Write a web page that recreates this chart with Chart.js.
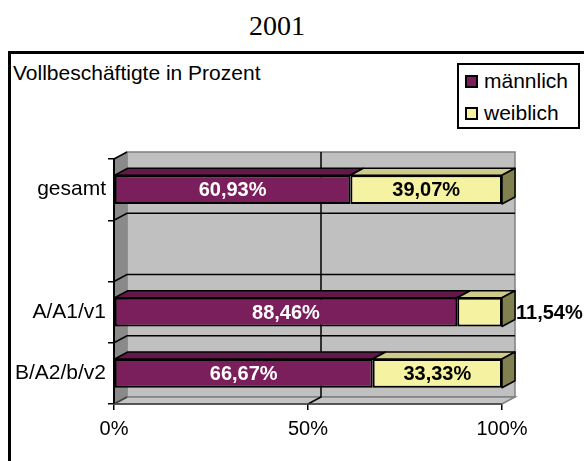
<!DOCTYPE html>
<html>
<head>
<meta charset="utf-8">
<script src="https://cdn.jsdelivr.net/npm/chart.js@4"></script>
<style>
  body { margin:0; background:#fff; }
  #wrap { position:relative; width:584px; height:461px; overflow:hidden; font-family:"Liberation Sans", Arial, sans-serif; }
  #frame { position:absolute; left:8px; top:51px; width:640px; height:520px; border:3px solid #000; }
  #title { position:absolute; left:0; top:12px; width:554px; text-align:center; font:28px/28px "Liberation Serif", "Times New Roman", serif; }
  #subtitle { position:absolute; left:13px; top:62px; font-size:21px; line-height:21px; }
  #legend { position:absolute; left:457px; top:63px; width:119px; height:62px; border:2px solid #000; background:#fff; }
  .item { position:absolute; left:0; font-size:21px; line-height:21px; white-space:nowrap; }
  .item i { position:absolute; left:6px; top:5px; width:13px; height:13px; box-sizing:border-box; border:2px solid #000; }
  .item span { position:absolute; left:25px; top:0; }
  canvas { position:absolute; left:0; top:0; }
</style>
</head>
<body>
<div id="wrap">
  <div id="frame"></div>
  <div id="title">2001</div>
  <div id="subtitle">Vollbeschäftigte in Prozent</div>
  <div id="legend"></div>
  <canvas id="chart" width="584" height="461"></canvas>
</div>
<script>
// ---- DATA ----
const categories   = ["gesamt", "", "A/A1/v1", "B/A2/b/v2"];
const seriesNames  = ["männlich", "weiblich"];
const maleValues   = [60.93, null, 88.46, 66.67];
const femaleValues = [39.07, null, 11.54, 33.33];
const xTickValues  = [0, 50, 100];

// ---- STYLE ----
const FONT = "'Liberation Sans', Arial, sans-serif";
const frontColors = ["#7a1f5b", "#f5f2a2"];
const topColors   = ["#63184a", "#cfcb88"];
const sideColors  = ["#4a1036", "#818150"];
const labelColors = ["#fff", "#000"];
const DX = 13, DY = 7;

// legend (html)
const legendEl = document.getElementById("legend");
seriesNames.forEach((name, i) => {
  const d = document.createElement("div");
  d.className = "item";
  d.style.top = (5 + i * 32) + "px";
  d.innerHTML = `<i style="background:${frontColors[i]}"></i><span>${name}</span>`;
  legendEl.appendChild(d);
});

const fmt = v => v.toFixed(2).replace(".", ",") + "%";

function poly(ctx, pts, fill, stroke, lw){
  ctx.beginPath();
  ctx.moveTo(pts[0][0], pts[0][1]);
  for (let i = 1; i < pts.length; i++) ctx.lineTo(pts[i][0], pts[i][1]);
  ctx.closePath();
  if (fill){ ctx.fillStyle = fill; ctx.fill(); }
  if (stroke){ ctx.strokeStyle = stroke; ctx.lineWidth = lw || 1; ctx.stroke(); }
}

// 3D walls + grid behind the bars
const wallPlugin = {
  id: "walls",
  beforeDatasetsDraw(chart){
    const {ctx, chartArea:a, scales} = chart;
    const ys = scales.y, xs = scales.x;
    ctx.save();
    // back wall
    poly(ctx, [[a.left+DX,a.top-DY],[a.right+DX,a.top-DY],[a.right+DX,a.bottom-DY],[a.left+DX,a.bottom-DY]], "#c0c0c0", "#808080", 1.5);
    // side wall
    poly(ctx, [[a.left,a.top],[a.left+DX,a.top-DY],[a.left+DX,a.bottom-DY],[a.left,a.bottom]], "#8a8a8a", null);
    // floor
    poly(ctx, [[a.left,a.bottom],[a.right,a.bottom],[a.right+DX,a.bottom-DY],[a.left+DX,a.bottom-DY]], "#c4c4c4", "#808080", 1.5);
    // category boundaries
    const n = categories.length;
    for (let i = 0; i <= n; i++){
      let y;
      if (i === 0) y = a.top;
      else if (i === n) y = a.bottom;
      else y = (ys.getPixelForValue(i-1) + ys.getPixelForValue(i)) / 2;
      ctx.strokeStyle = i === n ? "#404040" : "#000";
      ctx.lineWidth = 1.5;
      ctx.beginPath();
      ctx.moveTo(a.left, y); ctx.lineTo(a.left+DX, y-DY);
      if (i > 0 && i < n){ ctx.lineTo(a.right+DX, y-DY); }
      ctx.stroke();
    }
    // value gridline(s)
    xTickValues.forEach(v => {
      if (v === 0 || v === 100) return;
      const x = xs.getPixelForValue(v);
      ctx.strokeStyle = "#000"; ctx.lineWidth = 1.5;
      ctx.beginPath();
      ctx.moveTo(x+DX, a.top-DY); ctx.lineTo(x+DX, a.bottom-DY); ctx.lineTo(x, a.bottom);
      ctx.stroke();
    });
    // front left edge
    ctx.strokeStyle = "#000"; ctx.lineWidth = 2;
    ctx.beginPath(); ctx.moveTo(a.left, a.top); ctx.lineTo(a.left, a.bottom); ctx.stroke();
    ctx.strokeStyle = "#404040"; ctx.lineWidth = 1.5;
    ctx.beginPath(); ctx.moveTo(a.left, a.bottom); ctx.lineTo(a.right, a.bottom); ctx.stroke();
    ctx.restore();
  },
  afterDatasetsDraw(chart){
    const {ctx} = chart;
    const nSets = chart.data.datasets.length;
    ctx.save();
    ctx.lineJoin = "round";
    // depth faces
    chart.data.datasets.forEach((ds, di) => {
      chart.getDatasetMeta(di).data.forEach((bar, i) => {
        if (ds.data[i] == null) return;
        const p = bar.getProps(["x","y","base","height"], true);
        const x0 = Math.min(p.base, p.x), x1 = Math.max(p.base, p.x);
        const y0 = p.y - p.height/2, y1 = p.y + p.height/2;
        poly(ctx, [[x0,y0],[x1,y0],[x1+DX,y0-DY],[x0+DX,y0-DY]], topColors[di], "#000", 1.5);
        if (di === nSets - 1)
          poly(ctx, [[x1,y0],[x1+DX,y0-DY],[x1+DX,y1-DY],[x1,y1]], sideColors[di], "#000", 1.5);
      });
    });
    // value labels
    ctx.font = "bold 20px " + FONT;
    ctx.textBaseline = "middle";
    chart.data.datasets.forEach((ds, di) => {
      chart.getDatasetMeta(di).data.forEach((bar, i) => {
        const v = ds.data[i];
        if (v == null) return;
        const p = bar.getProps(["x","y","base"], true);
        const x0 = Math.min(p.base, p.x), x1 = Math.max(p.base, p.x);
        const txt = fmt(v);
        const w = ctx.measureText(txt).width;
        if (x1 - x0 > w + 8){
          ctx.textAlign = "center"; ctx.fillStyle = labelColors[di];
          ctx.fillText(txt, (x0 + x1) / 2, p.y + 1);
        } else {
          ctx.textAlign = "left"; ctx.fillStyle = "#000";
          ctx.fillText(txt, x1 + DX + 1, p.y + 1);
        }
      });
    });
    ctx.restore();
  }
};

new Chart(document.getElementById("chart"), {
  type: "bar",
  data: {
    labels: categories,
    datasets: [
      { label: seriesNames[0], data: maleValues,   backgroundColor: frontColors[0], borderColor: "#000", borderWidth: 2, borderSkipped: false },
      { label: seriesNames[1], data: femaleValues, backgroundColor: frontColors[1], borderColor: "#000", borderWidth: 2, borderSkipped: false }
    ]
  },
  options: {
    responsive: false,
    animation: false,
    indexAxis: "y",
    categoryPercentage: 1,
    barPercentage: 0.47,
    layout: { padding: { top: 159, right: 82, bottom: 0, left: 0 } },
    plugins: { legend: { display: false }, title: { display: false }, tooltip: { enabled: false } },
    scales: {
      x: {
        stacked: true, min: 0, max: 100,
        afterBuildTicks: s => { s.ticks = xTickValues.map(v => ({ value: v })); },
        afterFit: s => { s.height = 461 - 404; },
        ticks: { callback: v => v + "%", color: "#000", font: { family: FONT, size: 20 }, padding: 7, maxRotation: 0 },
        grid: { drawOnChartArea: false, drawTicks: true, tickLength: 6, color: "#000", lineWidth: 1.5 },
        border: { display: false }
      },
      y: {
        stacked: true,
        afterFit: s => { s.width = 114; },
        ticks: { color: "#000", font: { family: FONT, size: 21 }, padding: 2 },
        grid: { drawOnChartArea: false, drawTicks: true, tickLength: 6, color: "#000", lineWidth: 1.5, offset: true },
        border: { display: false }
      }
    }
  },
  plugins: [wallPlugin]
});
</script>
</body>
</html>
